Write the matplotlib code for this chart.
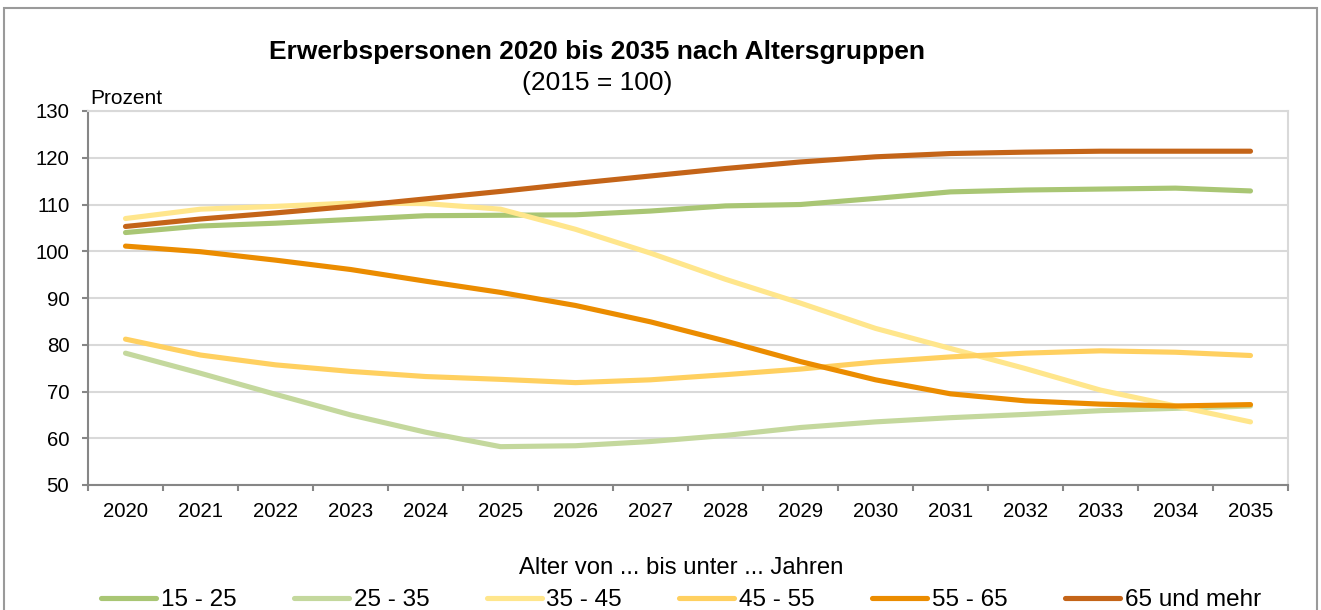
import matplotlib
matplotlib.use("Agg")
import matplotlib.pyplot as plt
from matplotlib.patches import Rectangle
import numpy as np

plt.rcParams['font.family'] = ['Liberation Sans', 'DejaVu Sans']
plt.rcParams['lines.solid_capstyle'] = 'round'

years = ["2020", "2021", "2022", "2023", "2024", "2025", "2026", "2027",
         "2028", "2029", "2030", "2031", "2032", "2033", "2034", "2035"]
s_15_25 = [104.0, 105.4, 106.0, 106.8, 107.6, 107.7, 107.8, 108.6,
           109.7, 110.0, 111.3, 112.7, 113.1, 113.3, 113.5, 112.9]
s_25_35 = [78.2, 73.9, 69.4, 65.0, 61.3, 58.2, 58.4, 59.3,
           60.6, 62.3, 63.5, 64.4, 65.1, 65.9, 66.4, 66.9]
s_35_45 = [107.0, 109.0, 109.6, 110.3, 110.2, 109.0, 104.7, 99.6,
           94.0, 88.9, 83.5, 79.2, 74.9, 70.3, 66.9, 63.5]
s_45_55 = [81.2, 77.8, 75.7, 74.3, 73.2, 72.6, 71.9, 72.5,
           73.6, 74.8, 76.3, 77.4, 78.2, 78.7, 78.4, 77.7]
s_55_65 = [101.1, 99.9, 98.1, 96.1, 93.6, 91.2, 88.4, 84.9,
           80.8, 76.4, 72.5, 69.5, 68.0, 67.3, 66.9, 67.2]
s_65 = [105.3, 106.9, 108.2, 109.6, 111.2, 112.8, 114.5, 116.1,
        117.7, 119.1, 120.2, 120.9, 121.2, 121.4, 121.4, 121.4]

labels = ["15 - 25", "25 - 35", "35 - 45", "45 - 55", "55 - 65", "65 und mehr"]
series = [s_15_25, s_25_35, s_35_45, s_45_55, s_55_65, s_65]
colors = ["#A9C674", "#C4D89D", "#FFE68C", "#FFD060", "#EB8C00", "#C46418"]

W, H = 1321, 610
fig = plt.figure(figsize=(W / 100, H / 100), dpi=100)
ax = fig.add_axes([88 / W, 1 - 485 / H, 1200 / W, 374 / H])

x = np.arange(len(years))
for s, lab, c in zip(series, labels, colors):
    ax.plot(x, s, color=c, lw=3.7, label=lab, solid_joinstyle='round')

ax.set_xlim(-0.5, len(years) - 0.5)
ax.set_ylim(50, 130)
ax.set_yticks(np.arange(50, 131, 10))
ax.set_xticks(x)
ax.set_xticklabels(years)
ax.set_xticks(np.arange(-0.5, len(years), 1.0), minor=True)
ax.tick_params(axis='x', which='major', length=0, pad=12, labelsize=14.7)
ax.tick_params(axis='x', which='minor', length=4.5, width=1.5, color='#868686', direction='out')
ax.tick_params(axis='y', length=4.5, width=1.5, color='#868686', labelsize=14.7, pad=9)
ax.grid(axis='y', color='#D9D9D9', lw=1.5)
ax.set_axisbelow(True)
for side in ['left', 'bottom']:
    ax.spines[side].set_color('#868686')
    ax.spines[side].set_linewidth(1.5)
for side in ['top', 'right']:
    ax.spines[side].set_color('#D9D9D9')
    ax.spines[side].set_linewidth(1.5)

fig.text(90 / W, 1 - 98 / H, "Prozent", fontsize=15, ha='left', va='center')
fig.text(597 / W, 1 - 52 / H, "Erwerbspersonen 2020 bis 2035 nach Altersgruppen",
         fontsize=19, fontweight='bold', ha='center', va='center')
fig.text(597 / W, 1 - 83 / H, "(2015 = 100)", fontsize=19, ha='center', va='center')

leg = fig.legend(loc='upper center', bbox_to_anchor=(681 / W, 1 - 557 / H), ncol=6,
                 frameon=False, fontsize=17.5, title="Alter von ... bis unter ... Jahren",
                 title_fontsize=17.2, handlelength=2.26, handletextpad=0.2,
                 columnspacing=2.36, borderaxespad=0, borderpad=0, labelspacing=0.42)

fig.patches.append(Rectangle((4 / W, -0.1), 1313 / W, 1.1 - 8 / H, transform=fig.transFigure,
                             fill=False, edgecolor='#9A9A9A', lw=1.5))

fig.savefig("out.png", dpi=100)
